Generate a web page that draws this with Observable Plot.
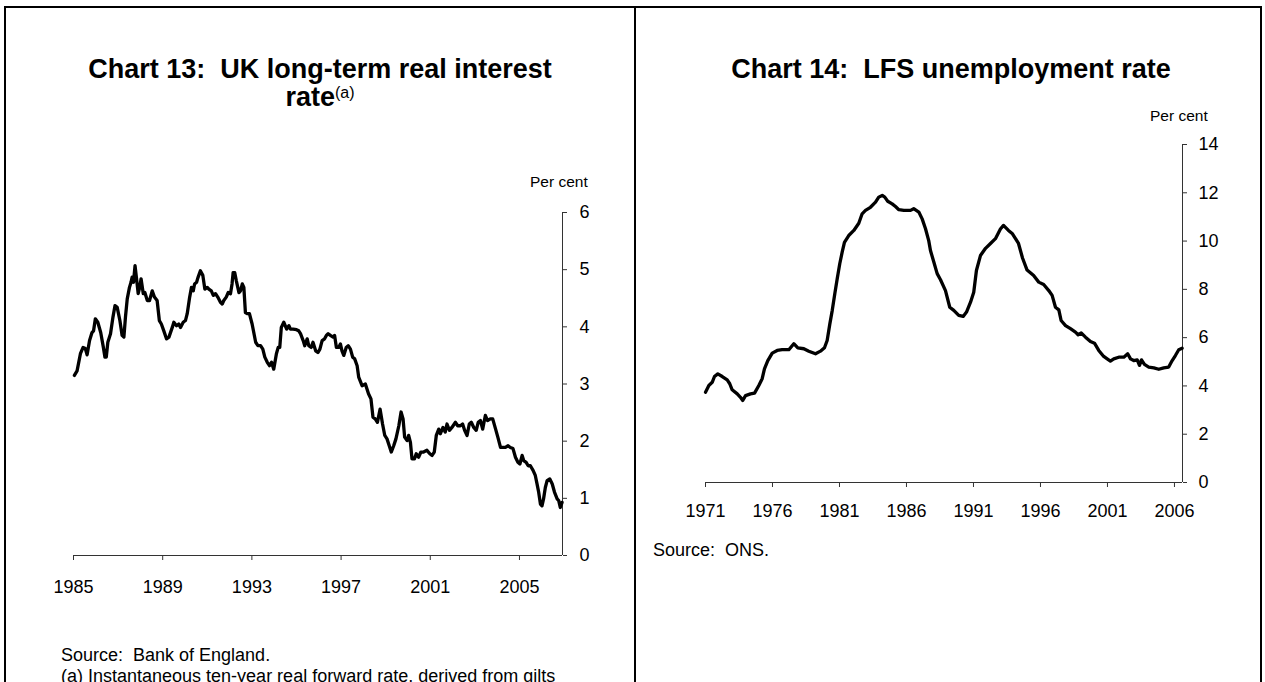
<!DOCTYPE html>
<html>
<head>
<meta charset="utf-8">
<script src="https://cdn.jsdelivr.net/npm/d3@7"></script>
<script src="https://cdn.jsdelivr.net/npm/@observablehq/plot@0.6"></script>
<style>
  html, body { margin: 0; padding: 0; background: #fff; }
  #page { position: relative; width: 1265px; height: 682px; overflow: hidden; background: #fff;
          font-family: "Liberation Sans", Arial, Helvetica, sans-serif; color: #000; }
  .rule { position: absolute; background: #000; }
  .title { position: absolute; text-align: center; font-weight: bold; font-size: 27px; line-height: 27px; height: 27px; white-space: nowrap; }
  .title sup { font-size: 16px; font-weight: normal; vertical-align: 0; position: relative; top: -8px; }
  .txt { position: absolute; font-size: 18px; white-space: nowrap; line-height: 20px; }
  .unit { position: absolute; font-size: 15.5px; white-space: nowrap; line-height: 18px; }
  .chart { position: absolute; }
</style>
</head>
<body>
<div id="page">
  <div class="rule" style="left:4px; top:6px; width:1258px; height:2px;"></div>
  <div class="rule" style="left:4px; top:6px; width:2px; height:676px;"></div>
  <div class="rule" style="left:634px; top:6px; width:2px; height:676px;"></div>
  <div class="rule" style="left:1260px; top:6px; width:2px; height:676px;"></div>

  <div class="title" style="left:6px; width:628px; top:56px;">Chart 13:&nbsp; UK long-term real interest</div>
  <div class="title" style="left:6px; width:628px; top:84px;">rate<sup>(a)</sup></div>
  <div class="title" style="left:636px; width:630px; top:56px;">Chart 14:&nbsp; LFS unemployment rate</div>

  <div class="unit" style="left:530px; top:173px;">Per cent</div>
  <div class="unit" style="left:1150px; top:107px;">Per cent</div>

  <div id="left" class="chart" style="left:40px; top:150px;"></div>
  <div id="right" class="chart" style="left:680px; top:80px;"></div>

  <div class="txt" style="left:61px; top:645px;">Source:&nbsp; Bank of England.</div>
  <div class="txt" style="left:61px; top:666px;">(a) Instantaneous ten-year real forward rate, derived from gilts</div>
  <div class="txt" style="left:653px; top:540px;">Source:&nbsp; ONS.</div>
</div>
<script>
// ---------- Chart 13 data: UK long-term real interest rate (per cent) ----------
const leftYears = [
1985.04,1985.16,1985.31,1985.43,1985.53,1985.61,1985.72,1985.83,1985.90,1985.98,
1986.09,1986.22,1986.34,1986.41,1986.47,1986.54,1986.66,1986.77,1986.86,1986.96,
1987.08,1987.18,1987.26,1987.33,1987.41,1987.51,1987.58,1987.63,1987.69,1987.76,
1987.82,1987.90,1987.97,1988.03,1988.13,1988.20,1988.31,1988.41,1988.53,1988.63,
1988.75,1988.85,1988.94,1989.05,1989.17,1989.28,1989.43,1989.50,1989.62,1989.72,
1989.80,1989.92,1990.02,1990.10,1990.21,1990.29,1990.37,1990.43,1990.52,1990.59,
1990.69,1990.80,1990.89,1991.00,1991.07,1991.18,1991.27,1991.37,1991.47,1991.59,
1991.67,1991.74,1991.85,1991.94,1992.04,1992.11,1992.16,1992.23,1992.30,1992.42,
1992.49,1992.57,1992.64,1992.71,1992.79,1992.89,1993.01,1993.17,1993.27,1993.39,
1993.49,1993.58,1993.69,1993.79,1993.88,1993.98,1994.10,1994.18,1994.25,1994.32,
1994.43,1994.56,1994.66,1994.73,1994.85,1995.00,1995.10,1995.18,1995.30,1995.37,
1995.48,1995.55,1995.66,1995.74,1995.86,1995.96,1996.05,1996.15,1996.26,1996.34,
1996.42,1996.52,1996.64,1996.71,1996.79,1996.89,1996.97,1997.04,1997.12,1997.23,
1997.32,1997.42,1997.52,1997.61,1997.72,1997.79,1997.94,1998.09,1998.23,1998.34,
1998.43,1998.53,1998.63,1998.75,1998.86,1998.96,1999.06,1999.16,1999.25,1999.36,
1999.46,1999.59,1999.69,1999.78,1999.85,1999.96,2000.03,2000.11,2000.18,2000.29,
2000.37,2000.48,2000.58,2000.70,2000.85,2000.98,2001.08,2001.18,2001.27,2001.38,
2001.45,2001.57,2001.67,2001.75,2001.86,2001.97,2002.13,2002.23,2002.35,2002.45,
2002.54,2002.65,2002.75,2002.84,2002.95,2003.06,2003.15,2003.25,2003.35,2003.47,
2003.57,2003.69,2003.80,2003.93,2004.03,2004.15,2004.25,2004.37,2004.49,2004.59,
2004.71,2004.82,2004.93,2005.02,2005.12,2005.19,2005.30,2005.39,2005.49,2005.61,
2005.71,2005.79,2005.86,2005.94,2006.01,2006.08,2006.16,2006.24,2006.36,2006.47,
2006.57,2006.69,2006.76,2006.83,2006.91
];
const leftRates = [
3.15,3.23,3.53,3.64,3.62,3.51,3.76,3.90,3.93,4.14,
4.08,3.90,3.64,3.47,3.47,3.73,3.88,4.17,4.37,4.34,
4.11,3.85,3.82,4.17,4.49,4.69,4.78,4.87,4.78,5.07,
4.87,4.58,4.69,4.84,4.58,4.60,4.46,4.46,4.63,4.52,
4.46,4.11,4.05,3.93,3.79,3.82,3.99,4.08,4.02,4.05,
3.99,4.08,4.11,4.23,4.52,4.69,4.63,4.75,4.78,4.87,
4.98,4.90,4.66,4.69,4.66,4.63,4.55,4.58,4.52,4.43,
4.40,4.46,4.52,4.60,4.58,4.75,4.95,4.95,4.81,4.60,
4.63,4.75,4.69,4.25,4.23,4.23,4.05,3.73,3.67,3.67,
3.61,3.47,3.38,3.32,3.38,3.26,3.53,3.64,3.64,3.99,
4.08,3.96,4.02,3.96,3.96,3.95,3.93,3.88,3.76,3.67,
3.79,3.67,3.64,3.73,3.58,3.55,3.61,3.76,3.79,3.85,
3.88,3.85,3.82,3.85,3.64,3.64,3.70,3.58,3.50,3.64,
3.67,3.61,3.47,3.44,3.32,3.12,2.97,3.00,2.83,2.74,
2.42,2.39,2.33,2.56,2.30,2.10,2.04,1.92,1.81,1.92,
2.04,2.27,2.51,2.39,2.07,2.01,2.10,1.98,1.69,1.69,
1.78,1.72,1.81,1.81,1.84,1.78,1.75,1.81,2.10,2.21,
2.13,2.24,2.16,2.30,2.19,2.24,2.33,2.27,2.27,2.30,
2.19,2.10,2.30,2.33,2.24,2.19,2.33,2.36,2.21,2.45,
2.36,2.39,2.39,2.21,2.07,1.89,1.89,1.89,1.92,1.89,
1.87,1.72,1.63,1.60,1.75,1.66,1.63,1.57,1.57,1.49,
1.40,1.25,1.11,0.90,0.87,0.99,1.19,1.31,1.34,1.25,
1.11,0.99,0.96,0.84,0.93
];
const leftXTicks = [1985, 1989, 1993, 1997, 2001, 2005];
const leftYTicks = [0, 1, 2, 3, 4, 5, 6];
const leftXDomain = [1985, 2006.93];
const leftYDomain = [0, 6];

// ---------- Chart 14 data: LFS unemployment rate (per cent) ----------
const rightYears = [
1971.00,1971.25,1971.50,1971.67,1971.92,1972.25,1972.62,1972.81,1972.99,1973.37,
1973.61,1973.78,1973.99,1974.36,1974.66,1974.98,1975.23,1975.40,1975.65,1975.98,
1976.35,1976.72,1977.22,1977.59,1977.89,1978.34,1978.71,1979.21,1979.58,1979.88,
1980.08,1980.28,1980.46,1980.65,1980.83,1981.02,1981.20,1981.37,1981.69,1982.07,
1982.44,1982.69,1982.94,1983.31,1983.69,1983.93,1984.19,1984.38,1984.60,1984.93,
1985.18,1985.43,1985.80,1986.30,1986.54,1986.92,1987.17,1987.42,1987.66,1987.79,
1988.04,1988.29,1988.54,1988.91,1989.23,1989.53,1989.90,1990.23,1990.48,1990.78,
1991.02,1991.22,1991.52,1991.90,1992.27,1992.64,1993.01,1993.24,1993.61,1993.91,
1994.36,1994.66,1995.00,1995.49,1995.87,1996.24,1996.62,1996.87,1997.12,1997.37,
1997.54,1997.87,1998.24,1998.61,1998.81,1999.04,1999.36,1999.73,2000.03,2000.35,
2000.72,2000.98,2001.22,2001.47,2001.84,2002.22,2002.51,2002.72,2002.96,2003.22,
2003.39,2003.54,2003.76,2004.08,2004.46,2004.83,2005.20,2005.57,2005.83,2006.07,
2006.32,2006.57
];
const rightRates = [
3.74,4.02,4.15,4.39,4.50,4.39,4.25,4.09,3.84,3.67,
3.53,3.40,3.60,3.67,3.70,4.02,4.30,4.71,5.05,5.36,
5.47,5.50,5.50,5.75,5.58,5.54,5.44,5.33,5.44,5.58,
5.88,6.57,7.13,7.82,8.44,9.06,9.54,9.95,10.23,10.44,
10.74,11.13,11.27,11.40,11.61,11.82,11.89,11.82,11.65,11.54,
11.43,11.30,11.27,11.27,11.34,11.20,10.92,10.51,10.02,9.61,
9.13,8.65,8.40,7.95,7.26,7.13,6.92,6.88,7.06,7.47,
7.88,8.78,9.40,9.70,9.90,10.10,10.50,10.65,10.44,10.30,
9.90,9.30,8.80,8.57,8.30,8.20,7.95,7.75,7.26,7.15,
6.71,6.50,6.37,6.23,6.12,6.19,6.02,5.84,5.77,5.47,
5.22,5.12,5.03,5.12,5.19,5.19,5.33,5.12,5.05,5.08,
4.85,5.08,4.89,4.78,4.75,4.69,4.75,4.78,5.05,5.26,
5.50,5.56
];
const rightXTicks = [1971, 1976, 1981, 1986, 1991, 1996, 2001, 2006];
const rightYTicks = [0, 2, 4, 6, 8, 10, 12, 14];
const rightXDomain = [1971, 2006.6];
const rightYDomain = [0, 14];

const FONT = '"Liberation Sans", Arial, Helvetica, sans-serif';
const AXIS_COLOR = "#333";

function makeChart({years, values, xTicks, yTicks, xDomain, yDomain,
                    width, height, marginLeft, marginRight, marginTop, marginBottom,
                    xPad, yPad}) {
  const data = years.map((t, i) => ({t, v: values[i]}));
  return Plot.plot({
    width, height, marginLeft, marginRight, marginTop, marginBottom,
    style: {fontFamily: FONT, fontSize: "18px", color: "#000", background: "transparent", overflow: "visible"},
    x: {domain: xDomain, type: "linear"},
    y: {domain: yDomain, type: "linear"},
    marks: [
      Plot.ruleY([yDomain[0]], {stroke: AXIS_COLOR, strokeWidth: 1}),
      Plot.ruleX([xDomain[1]], {y1: yDomain[0], y2: yDomain[1], stroke: AXIS_COLOR, strokeWidth: 1}),
      Plot.axisX({ticks: xTicks, tickFormat: d => String(d), tickSize: 5, tickPadding: xPad,
                  stroke: AXIS_COLOR, fill: "#000", fontSize: 18, label: null}),
      Plot.axisY({anchor: "right", ticks: yTicks, tickFormat: d => String(d), tickSize: 4, tickPadding: yPad,
                  stroke: AXIS_COLOR, fill: "#000", fontSize: 18, label: null}),
      Plot.line(data, {x: "t", y: "v", stroke: "#000", strokeWidth: 3.3, strokeLinejoin: "round", strokeLinecap: "round"})
    ]
  });
}

document.getElementById("left").appendChild(makeChart({
  years: leftYears, values: leftRates, xTicks: leftXTicks, yTicks: leftYTicks,
  xDomain: leftXDomain, yDomain: leftYDomain,
  width: 582, height: 455, marginLeft: 33, marginRight: 60, marginTop: 62, marginBottom: 50,
  xPad: 20, yPad: 13
}));

document.getElementById("right").appendChild(makeChart({
  years: rightYears, values: rightRates, xTicks: rightXTicks, yTicks: rightYTicks,
  xDomain: rightXDomain, yDomain: rightYDomain,
  width: 562, height: 447, marginLeft: 25, marginRight: 60, marginTop: 64, marginBottom: 45,
  xPad: 17, yPad: 12
}));
</script>
</body>
</html>
